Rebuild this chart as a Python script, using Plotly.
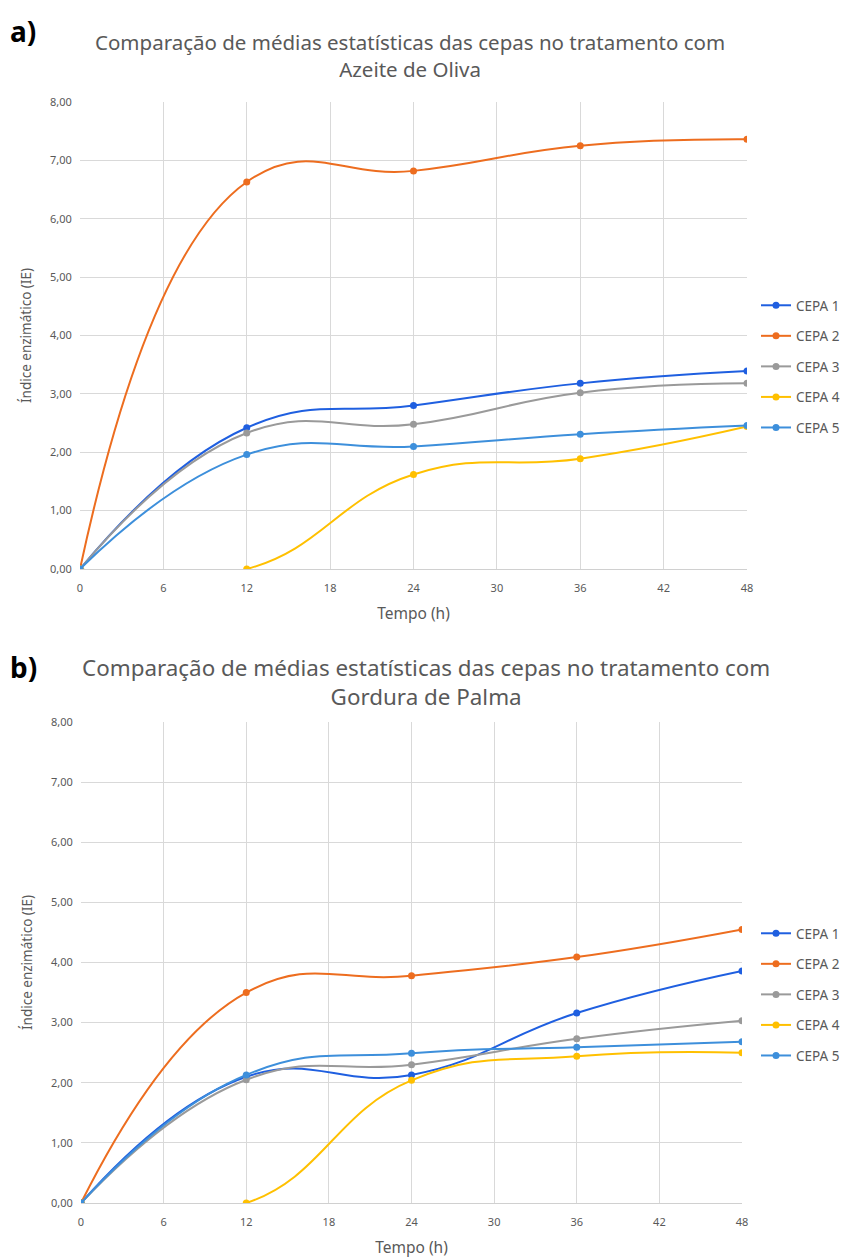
import plotly.graph_objects as go

tempo = [0, 12, 24, 36, 48]
cepas = ["CEPA 1", "CEPA 2", "CEPA 3", "CEPA 4", "CEPA 5"]
cores = ["#1f5fe0", "#ed6d1f", "#9a9a9a", "#ffc000", "#3d8fdb"]

# a) Azeite de Oliva
oliva_cepa1 = [0.00, 2.42, 2.80, 3.18, 3.39]
oliva_cepa2 = [0.00, 6.63, 6.82, 7.25, 7.36]
oliva_cepa3 = [0.00, 2.33, 2.48, 3.02, 3.18]
oliva_cepa4 = [0.00, 0.00, 1.62, 1.89, 2.44]
oliva_cepa5 = [0.00, 1.96, 2.10, 2.31, 2.46]

# b) Gordura de Palma
palma_cepa1 = [0.00, 2.10, 2.13, 3.16, 3.86]
palma_cepa2 = [0.00, 3.50, 3.78, 4.09, 4.55]
palma_cepa3 = [0.00, 2.05, 2.30, 2.73, 3.03]
palma_cepa4 = [0.00, 0.00, 2.04, 2.44, 2.50]
palma_cepa5 = [0.00, 2.13, 2.49, 2.59, 2.68]

y_ticks = [0, 1, 2, 3, 4, 5, 6, 7, 8]
y_labels = ["0,00", "1,00", "2,00", "3,00", "4,00", "5,00", "6,00", "7,00", "8,00"]
x_ticks = [0, 6, 12, 18, 24, 30, 36, 42, 48]

oliva = [oliva_cepa1, oliva_cepa2, oliva_cepa3, oliva_cepa4, oliva_cepa5]
palma = [palma_cepa1, palma_cepa2, palma_cepa3, palma_cepa4, palma_cepa5]

W, H = 861, 1260
OFF = 8  # page body margin
FONT = "Noto Sans"
GRAY = "#595959"

fig = go.Figure()

for data, xa, ya, leg, pref in [(oliva, "x", "y", "legend", "a"),
                                (palma, "x2", "y2", "legend2", "b")]:
    for i, (nome, vals) in enumerate(zip(cepas, data)):
        fig.add_trace(go.Scatter(
            x=tempo, y=vals, name=nome, mode="lines+markers",
            line=dict(color=cores[i], width=2, shape="spline", smoothing=1.3),
            marker=dict(color=cores[i], size=7),
            xaxis=xa, yaxis=ya, legend=leg, legendgroup=pref + str(i),
        ))

def px_x(p):
    return (p - OFF) / W

def px_y(p):
    return 1 - (p - OFF) / H

axis_common = dict(
    range=[0, 48], tickvals=x_ticks, showgrid=True, gridcolor="#d9d9d9",
    gridwidth=1, zeroline=False, showline=True, linecolor="#d0d0d0",
    tickfont=dict(family=FONT, size=11, color=GRAY),
    ticks="outside", ticklen=9, tickcolor="rgba(0,0,0,0)",
    fixedrange=True, automargin=False,
)
yaxis_common = dict(
    range=[0, 8], tickvals=y_ticks, ticktext=y_labels, showgrid=True,
    gridcolor="#d9d9d9", gridwidth=1, zeroline=False, showline=False,
    tickfont=dict(family=FONT, size=11, color=GRAY),
    ticks="outside", ticklen=5, tickcolor="rgba(0,0,0,0)",
    fixedrange=True, automargin=False,
)
xtitle_font = dict(family=FONT, size=15.5, color=GRAY)
ytitle_font = dict(family=FONT, size=13.5, color=GRAY)

fig.update_layout(
    width=W, height=H,
    margin=dict(l=0, r=0, t=0, b=0),
    paper_bgcolor="white", plot_bgcolor="white",
    showlegend=True,
    xaxis=dict(axis_common, domain=[px_x(80), px_x(747)], anchor="y",
               title=dict(text="Tempo (h)", font=xtitle_font, standoff=13)),
    yaxis=dict(yaxis_common, domain=[px_y(569), px_y(102)], anchor="x",
               title=dict(text="Índice enzimático (IE)", font=ytitle_font, standoff=15)),
    xaxis2=dict(axis_common, domain=[px_x(81), px_x(742)], anchor="y2",
                title=dict(text="Tempo (h)", font=xtitle_font, standoff=13)),
    yaxis2=dict(yaxis_common, domain=[px_y(1203), px_y(722)], anchor="x2",
                title=dict(text="Índice enzimático (IE)", font=ytitle_font, standoff=15)),
    legend=dict(x=px_x(756), y=px_y(290), xanchor="left", yanchor="top",
                font=dict(family=FONT, size=13.5, color=GRAY), tracegroupgap=10,
                bgcolor="rgba(0,0,0,0)", itemwidth=30),
    legend2=dict(x=px_x(756), y=px_y(918), xanchor="left", yanchor="top",
                 font=dict(family=FONT, size=13.5, color=GRAY), tracegroupgap=10,
                 bgcolor="rgba(0,0,0,0)", itemwidth=30),
)

annotations = [
    dict(text="<b>a)</b>", x=px_x(8), y=px_y(31), font=dict(family=FONT, size=28, color="#000000")),
    dict(text="Comparação de médias estatísticas das cepas no tratamento com<br>Azeite de Oliva",
         x=px_x(410), y=px_y(56),
         font=dict(family=FONT, size=20.5, color=GRAY), xanchor="center", align="center"),
    dict(text="<b>b)</b>", x=px_x(8), y=px_y(667), font=dict(family=FONT, size=28, color="#000000")),
    dict(text="Comparação de médias estatísticas das cepas no tratamento com<br>Gordura de Palma",
         x=px_x(426), y=px_y(682),
         font=dict(family=FONT, size=22.4, color=GRAY), xanchor="center", align="center"),
]
for a in annotations:
    a.setdefault("xanchor", "left")
    a.update(xref="paper", yref="paper", yanchor="middle", showarrow=False)
fig.update_layout(annotations=annotations)

fig.write_html("out.html")
